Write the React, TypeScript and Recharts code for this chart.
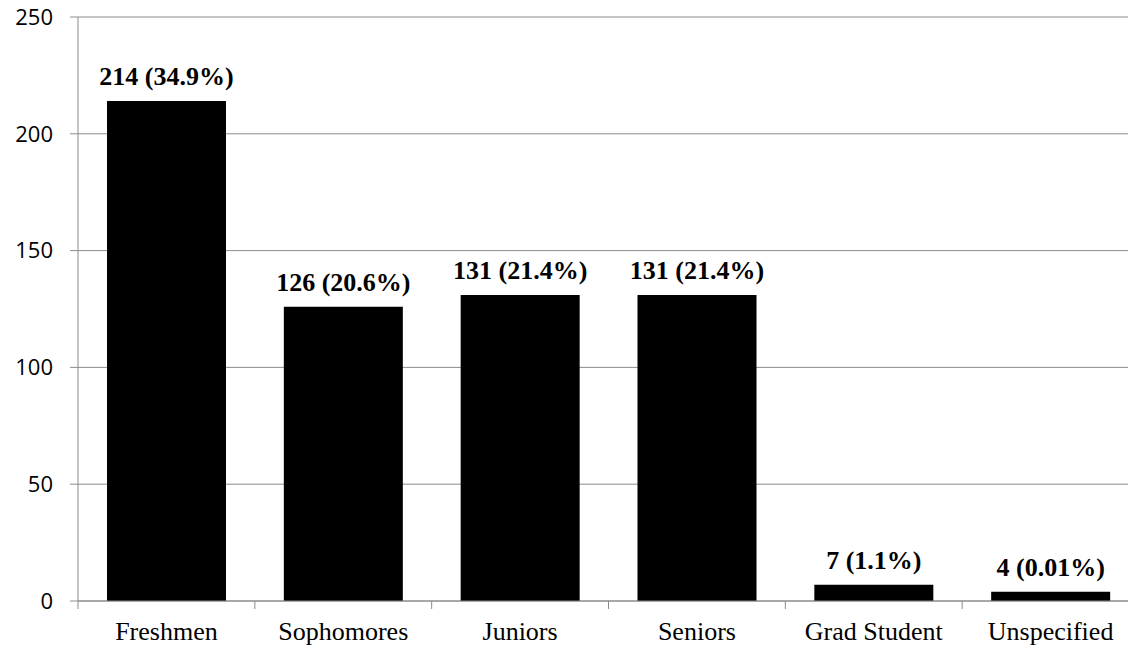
import { BarChart, Bar, XAxis, YAxis, CartesianGrid, LabelList } from "recharts";

const categories = ["Freshmen", "Sophomores", "Juniors", "Seniors", "Grad Student", "Unspecified"];
const counts = [214, 126, 131, 131, 7, 4];
const labels = ["214 (34.9%)", "126 (20.6%)", "131 (21.4%)", "131 (21.4%)", "7 (1.1%)", "4 (0.01%)"];
const yTicks = [0, 50, 100, 150, 200, 250];

const data = categories.map((name, i) => ({ name, count: counts[i], label: labels[i] }));

const GRID = "#8c8c8c";
const SERIF = "'Liberation Serif', 'Times New Roman', serif";

// category ticks sit on the band edges, labels in the middle
function XTick(props: any) {
  const { x, y, payload } = props;
  const half = payload.offset ?? 88;
  return (
    <g>
      <line x1={x - half} x2={x - half} y1={y - 8} y2={y} stroke={GRID} />
      <text x={x} y={y + 31} textAnchor="middle" fontFamily={SERIF} fontSize={26} fill="#000">
        {payload.value}
      </text>
    </g>
  );
}

export default function App() {
  return (
    <div
      style={{
        position: "absolute",
        left: 0,
        top: 0,
        width: 1128,
        height: 647,
        overflow: "hidden",
        background: "#fff",
      }}
    >
      <BarChart
        width={1140}
        height={647}
        data={data}
        margin={{ top: 17, right: 1, bottom: 0, left: 0 }}
      >
        <CartesianGrid vertical={false} stroke={GRID} />
        <XAxis
          dataKey="name"
          height={46}
          tickSize={8}
          tickMargin={0}
          tickLine={false}
          axisLine={{ stroke: GRID }}
          tick={<XTick />}
          interval={0}
        />
        <YAxis
          width={78}
          domain={[0, 250]}
          ticks={yTicks}
          tickSize={8}
          tickMargin={17}
          axisLine={{ stroke: GRID }}
          tickLine={{ stroke: GRID }}
          tick={{ fill: "#000", fontSize: 22, fontFamily: "'Open Sans', sans-serif" }}
        />
        <Bar dataKey="count" fill="#000" barSize={119} isAnimationActive={false}>
          <LabelList
            dataKey="label"
            position="top"
            offset={16}
            fill="#000"
            fontSize={26}
            fontWeight="bold"
            fontFamily={SERIF}
          />
        </Bar>
      </BarChart>
    </div>
  );
}
